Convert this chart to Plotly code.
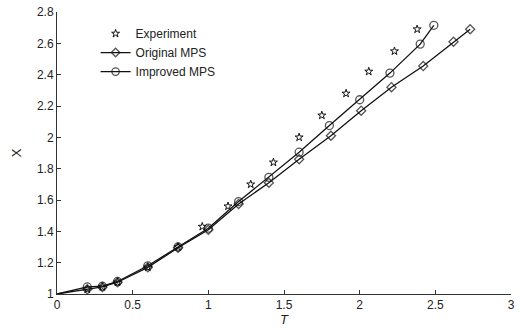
import plotly.graph_objects as go

# Data
T_exp = [0.2, 0.3, 0.4, 0.6, 0.8, 0.96, 1.13, 1.28, 1.43, 1.60, 1.75, 1.91, 2.06, 2.23, 2.38]
X_exp = [1.03, 1.045, 1.075, 1.17, 1.30, 1.43, 1.56, 1.70, 1.84, 2.00, 2.14, 2.28, 2.42, 2.55, 2.69]

T_orig = [0.0, 0.2, 0.3, 0.4, 0.6, 0.8, 1.0, 1.2, 1.4, 1.6, 1.81, 2.01, 2.21, 2.42, 2.62, 2.73]
X_orig = [1.0, 1.03, 1.045, 1.075, 1.17, 1.295, 1.41, 1.575, 1.71, 1.86, 2.01, 2.17, 2.32, 2.455, 2.61, 2.69]

T_impr = [0.0, 0.2, 0.3, 0.4, 0.6, 0.8, 1.0, 1.2, 1.4, 1.6, 1.8, 2.0, 2.2, 2.4, 2.49]
X_impr = [1.0, 1.045, 1.05, 1.08, 1.18, 1.30, 1.42, 1.59, 1.745, 1.905, 2.075, 2.24, 2.41, 2.595, 2.715]

x_ticks = [0, 0.5, 1, 1.5, 2, 2.5, 3]
y_ticks = [1, 1.2, 1.4, 1.6, 1.8, 2, 2.2, 2.4, 2.6, 2.8]

black = "#111111"
fig = go.Figure()
fig.add_trace(go.Scatter(
    x=T_exp, y=X_exp, mode="markers", name="Experiment",
    marker=dict(symbol="star-open", size=6, color=black, line=dict(width=1, color=black)),
))
fig.add_trace(go.Scatter(
    x=T_orig, y=X_orig, mode="lines+markers", name="Original MPS",
    line=dict(color=black, width=1.3),
    marker=dict(symbol="diamond-open", size=[0] + [7] * (len(T_orig) - 1), color=black,
                line=dict(width=1.3, color=black)),
))
fig.add_trace(go.Scatter(
    x=T_impr, y=X_impr, mode="lines+markers", name="Improved MPS",
    line=dict(color=black, width=1.3),
    marker=dict(symbol="circle-open", size=[0] + [8] * (len(T_impr) - 1), color=black,
                line=dict(width=1.3, color=black)),
))

axis_common = dict(
    showline=True, linecolor="#333333", linewidth=1, ticks="inside", ticklen=4,
    tickcolor="#333333", showgrid=False, zeroline=False, mirror=False,
    tickfont=dict(family="Liberation Sans, Arial", size=12, color="#222222"),
)
fig.update_layout(
    width=520, height=331,
    margin=dict(l=57, r=5, t=12, b=37),
    paper_bgcolor="white", plot_bgcolor="white",
    showlegend=True,
    legend=dict(x=0.085, y=0.975, xanchor="left", yanchor="top",
                bgcolor="rgba(0,0,0,0)", borderwidth=0,
                font=dict(family="Liberation Sans, Arial", size=12, color="#222222"),
                itemwidth=30, tracegroupgap=0),
    xaxis=dict(range=[0, 3], tickvals=x_ticks, ticktext=[str(v) for v in x_ticks],
               title=dict(text="<i>T</i>", standoff=2,
                          font=dict(family="Liberation Sans, Arial", size=13, color="#222222")),
               **axis_common),
    yaxis=dict(range=[1, 2.8], tickvals=y_ticks, ticktext=[f"{v:g}" for v in y_ticks],
               title=dict(text="X", standoff=12,
                          font=dict(family="Liberation Sans, Arial", size=13, color="#222222")),
               **axis_common),
)
fig.write_html("out.html")
